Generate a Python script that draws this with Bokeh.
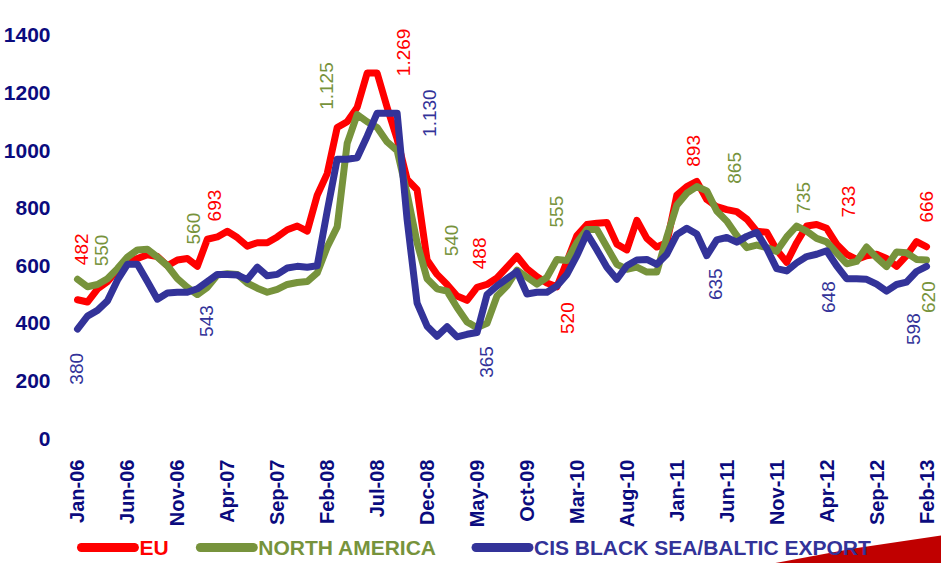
import math
from bokeh.plotting import figure
from bokeh.layouts import column
from bokeh.models import FixedTicker, Range1d
from bokeh.core.properties import value
from bokeh.embed import file_html
from bokeh.resources import INLINE

# ---- data -------------------------------------------------------------
months = list(range(86))  # Jan-06 .. Feb-13

eu = [482, 474, 519, 545, 585, 610, 625, 638, 632, 600,
      620, 625, 598, 692, 700, 720, 698, 668, 680, 680,
      700, 725, 738, 720, 845, 920, 1080, 1100, 1150, 1269,
      1269, 1150, 1040, 900, 864, 620, 570, 535, 495, 480,
      525, 535, 558, 595, 633, 590, 562, 540, 527, 615,
      705, 743, 748, 750, 675, 655, 758, 695, 665, 680,
      845, 875, 893, 830, 805, 795, 788, 762, 720, 716,
      655, 612, 680, 738, 743, 730, 675, 640, 622, 635,
      640, 625, 598, 635, 684, 666]

north_america = [553, 527, 535, 555, 590, 630, 655, 657, 630, 600,
                 555, 525, 500, 525, 568, 572, 570, 540, 522, 508,
                 518, 535, 542, 545, 575, 665, 735, 1025, 1125, 1100,
                 1080, 1030, 1000, 850, 680, 555, 520, 512, 455, 405,
                 385, 400, 495, 530, 585, 560, 536, 560, 622, 618,
                 680, 726, 726, 665, 605, 588, 595, 578, 578, 700,
                 810, 852, 875, 860, 790, 755, 705, 663, 672, 663,
                 650, 700, 738, 720, 695, 683, 645, 607, 615, 665,
                 628, 597, 648, 645, 622, 620]

cis = [380, 425, 445, 478, 550, 605, 605, 545, 484, 505,
       508, 508, 520, 545, 570, 570, 568, 552, 595, 565,
       570, 592, 598, 595, 600, 790, 970, 970, 975, 1050,
       1130, 1130, 1130, 760, 470, 390, 355, 388, 353, 362,
       368, 500, 530, 555, 580, 502, 508, 508, 530, 570,
       635, 712, 655, 595, 553, 600, 620, 622, 605, 640,
       708, 730, 710, 635, 690, 698, 682, 702, 716, 660,
       590, 582, 610, 632, 640, 652, 600, 555, 555, 553,
       536, 512, 535, 543, 580, 598]

tick_months = list(range(0, 86, 5))
tick_labels = ["Jan-06", "Jun-06", "Nov-06", "Apr-07", "Sep-07", "Feb-08",
               "Jul-08", "Dec-08", "May-09", "Oct-09", "Mar-10", "Aug-10",
               "Jan-11", "Jun-11", "Nov-11", "Apr-12", "Sep-12", "Feb-13"]
y_ticks = [0, 200, 400, 600, 800, 1000, 1200, 1400]

series_names = ["EU", "NORTH AMERICA", "CIS BLACK SEA/BALTIC  EXPORT"]

# value annotations: text, anchor month, anchor level
eu_notes = ["482", "693", "1.269", "488", "520", "893", "733", "666"]
eu_note_x = [0.4, 13.7, 32.6, 40.2, 49.1, 61.7, 77.2, 85.0]
eu_note_y = [657, 809, 1341, 643, 418, 999, 823, 805]

na_notes = ["550", "560", "1.125", "540", "555", "865", "735", "620"]
na_note_x = [2.4, 11.6, 24.9, 37.4, 48.0, 65.8, 72.7, 85.2]
na_note_y = [653, 729, 1224, 688, 788, 940, 836, 491]

cis_notes = ["380", "543", "1.130", "365", "635", "648", "598"]
cis_note_x = [-0.1, 12.9, 35.2, 40.9, 63.9, 75.2, 83.7]
cis_note_y = [242, 408, 1130, 266, 536, 491, 380]

# ---- style ------------------------------------------------------------
RED = "#FF0000"
GREEN = "#77933C"
BLUE = "#333399"
NAVY = "#0B0B7E"
FONT = "Liberation Sans"
W = 941

p = figure(width=W, height=530, output_backend="svg", toolbar_location=None,
           x_range=Range1d(-1.3, 86.5), y_range=Range1d(-17.3, 1479.5),
           min_border_left=52, min_border_right=0, min_border_top=12,
           min_border_bottom=85)
p.outline_line_color = None
p.grid.grid_line_color = None

for ys, col in [(eu, RED), (north_america, GREEN), (cis, BLUE)]:
    p.line(months, ys, line_color=col, line_width=7, line_join="round", line_cap="round")

for notes, nx, ny, col in [(eu_notes, eu_note_x, eu_note_y, RED),
                           (na_notes, na_note_x, na_note_y, GREEN),
                           (cis_notes, cis_note_x, cis_note_y, BLUE)]:
    p.text(x=nx, y=ny, text=notes, angle=math.pi / 2, text_align="center",
           text_baseline="middle", text_color=col, text_font=value(FONT),
           text_font_size="19px")

for ax in (p.xaxis[0], p.yaxis[0]):
    ax.axis_line_color = None
    ax.major_tick_line_color = None
    ax.minor_tick_line_color = None
    ax.major_label_text_color = NAVY
    ax.major_label_text_font = FONT
    ax.major_label_text_font_style = "bold"

p.yaxis[0].ticker = FixedTicker(ticks=y_ticks)
p.yaxis[0].major_label_text_font_size = "21px"
p.yaxis[0].major_label_standoff = 8

p.xaxis[0].ticker = FixedTicker(ticks=tick_months)
p.xaxis[0].major_label_overrides = {m: t for m, t in zip(tick_months, tick_labels)}
p.xaxis[0].major_label_orientation = math.pi / 2
p.xaxis[0].major_label_text_font_size = "20px"
p.xaxis[0].major_label_standoff = 10

# ---- legend strip (pixel-scaled figure; its frame aligns with the chart frame)
LH = 33
FRAME_LEFT = 63
lf = figure(width=W, height=LH, output_backend="svg", toolbar_location=None,
            x_range=Range1d(FRAME_LEFT, W), y_range=Range1d(0, LH),
            x_axis_type=None, y_axis_type=None,
            min_border=0, min_border_left=0, min_border_right=0,
            min_border_top=0, min_border_bottom=0)
lf.outline_line_color = None
lf.grid.grid_line_color = None

# decorative swoosh (bottom right of the slide)
lf.patch([772, 853, 941, 941], [0, 15, 28, 0], fill_color="#C00000", line_color=None)

legend_x = [80, 199, 475]
sample_len = 53
mid = 16
for name, col, x0 in zip(series_names, [RED, GREEN, BLUE], legend_x):
    lf.line([x0, x0 + sample_len], [mid, mid], line_color=col, line_width=9, line_cap="round")
    lf.text(x=[x0 + sample_len + 5], y=[mid], text=[name], text_align="left",
            text_baseline="middle", text_color=col, text_font=value(FONT),
            text_font_style="bold", text_font_size="21px")

open("out.html", "w").write(file_html(column(p, lf, spacing=0), INLINE))
